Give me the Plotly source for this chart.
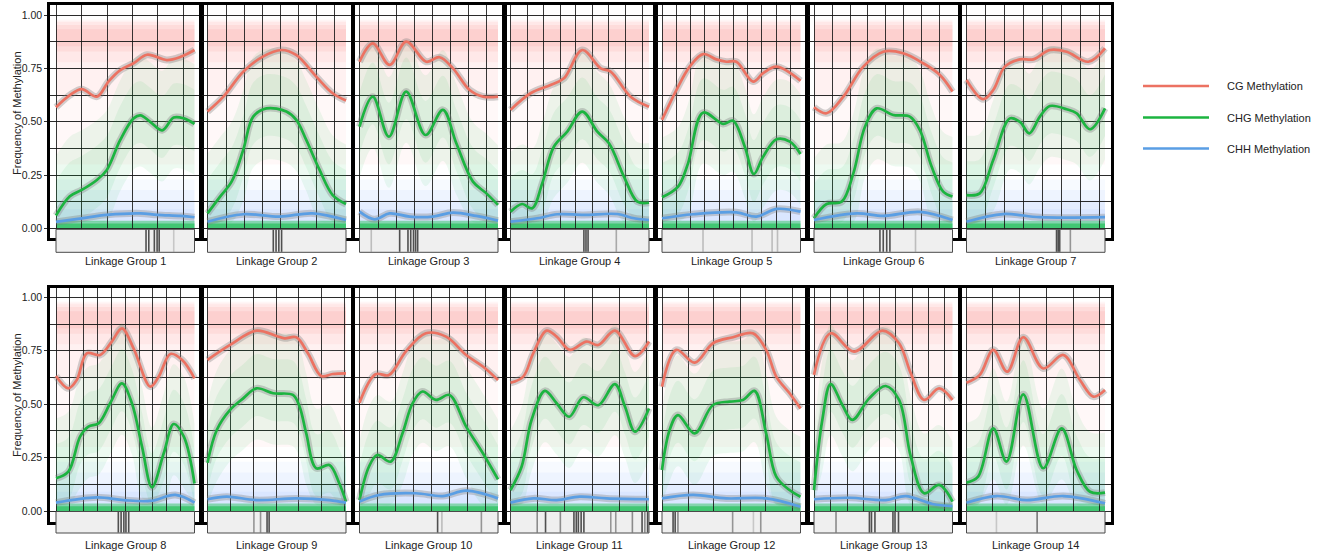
import plotly.graph_objects as go

W, H = 1323, 554

GROUPS = [f"Linkage Group {i}" for i in range(1, 15)]
SERIES = ["CG Methylation", "CHG Methylation", "CHH Methylation"]
COLORS = ["#EC7262", "#1CB440", "#5A9EE4"]
CLOUD_RGB = ["248,118,109", "0,186,56", "97,156,255"]

# ---- smoothed methylation curves (x = fraction of linkage group length) ----
CG_X = [
    [0, 0.10, 0.186, 0.295, 0.38, 0.464, 0.56, 0.657, 0.80, 0.90, 1.0],
    [0, 0.115, 0.258, 0.40, 0.533, 0.64, 0.785, 0.904, 1.0],
    [0, 0.096, 0.217, 0.337, 0.482, 0.578, 0.675, 0.795, 0.892, 1.0],
    [0, 0.145, 0.289, 0.386, 0.518, 0.651, 0.723, 0.867, 1.0],
    [0, 0.104, 0.2, 0.296, 0.393, 0.465, 0.537, 0.658, 0.73, 0.827, 1.0],
    [0, 0.091, 0.212, 0.356, 0.5, 0.644, 0.788, 0.909, 1.0],
    [0, 0.12, 0.193, 0.277, 0.386, 0.482, 0.602, 0.723, 0.88, 1.0],
    [0, 0.089, 0.15, 0.222, 0.319, 0.403, 0.476, 0.56, 0.681, 0.742, 0.826, 0.911, 1.0],
    [0, 0.163, 0.354, 0.498, 0.557, 0.641, 0.725, 0.821, 0.904, 1.0],
    [0, 0.116, 0.213, 0.334, 0.479, 0.625, 0.77, 0.891, 1.0],
    [0, 0.092, 0.164, 0.26, 0.333, 0.429, 0.549, 0.634, 0.754, 0.899, 1.0],
    [0, 0.103, 0.236, 0.368, 0.512, 0.656, 0.752, 0.825, 0.921, 1.0],
    [0, 0.12, 0.289, 0.494, 0.614, 0.699, 0.795, 0.904, 1.0],
    [0, 0.096, 0.193, 0.294, 0.41, 0.554, 0.699, 0.819, 0.916, 1.0],
]
CG_Y = [
    [0.568, 0.625, 0.653, 0.618, 0.69, 0.743, 0.775, 0.815, 0.79, 0.805, 0.837],
    [0.548, 0.618, 0.735, 0.806, 0.837, 0.814, 0.712, 0.634, 0.60],
    [0.782, 0.868, 0.767, 0.876, 0.782, 0.803, 0.751, 0.649, 0.618, 0.618],
    [0.556, 0.634, 0.673, 0.704, 0.837, 0.751, 0.736, 0.618, 0.571],
    [0.509, 0.649, 0.759, 0.818, 0.793, 0.782, 0.782, 0.689, 0.728, 0.759, 0.693],
    [0.568, 0.54, 0.618, 0.759, 0.829, 0.822, 0.775, 0.72, 0.642],
    [0.696, 0.606, 0.649, 0.759, 0.793, 0.793, 0.837, 0.829, 0.782, 0.845],
    [0.632, 0.574, 0.613, 0.738, 0.73, 0.793, 0.855, 0.761, 0.582, 0.629, 0.735, 0.707, 0.621],
    [0.707, 0.777, 0.844, 0.819, 0.808, 0.813, 0.738, 0.632, 0.641, 0.644],
    [0.507, 0.64, 0.636, 0.746, 0.832, 0.816, 0.73, 0.676, 0.613],
    [0.6, 0.629, 0.738, 0.844, 0.816, 0.754, 0.793, 0.777, 0.844, 0.725, 0.793],
    [0.582, 0.754, 0.694, 0.785, 0.813, 0.832, 0.754, 0.629, 0.551, 0.48],
    [0.637, 0.832, 0.746, 0.844, 0.785, 0.644, 0.52, 0.574, 0.52],
    [0.6, 0.637, 0.754, 0.652, 0.813, 0.667, 0.73, 0.613, 0.535, 0.566],
]
CHG_X = [
    [0, 0.10, 0.186, 0.295, 0.367, 0.464, 0.56, 0.61, 0.68, 0.766, 0.85, 0.923, 1.0],
    [0, 0.091, 0.175, 0.258, 0.33, 0.426, 0.569, 0.641, 0.713, 0.809, 0.904, 1.0],
    [0, 0.096, 0.212, 0.337, 0.477, 0.602, 0.699, 0.819, 0.916, 1.0],
    [0, 0.084, 0.157, 0.229, 0.313, 0.41, 0.518, 0.627, 0.711, 0.819, 0.916, 1.0],
    [0, 0.116, 0.188, 0.296, 0.441, 0.513, 0.598, 0.663, 0.73, 0.827, 0.923, 1.0],
    [0, 0.091, 0.2, 0.284, 0.368, 0.452, 0.572, 0.692, 0.764, 0.849, 0.933, 1.0],
    [0, 0.096, 0.193, 0.313, 0.386, 0.453, 0.53, 0.602, 0.723, 0.795, 0.892, 1.0],
    [0, 0.089, 0.174, 0.234, 0.307, 0.391, 0.476, 0.548, 0.621, 0.693, 0.778, 0.85, 0.923, 1.0],
    [0, 0.067, 0.163, 0.258, 0.354, 0.474, 0.617, 0.665, 0.713, 0.785, 0.88, 0.952, 1.0],
    [0, 0.068, 0.128, 0.225, 0.31, 0.383, 0.455, 0.552, 0.649, 0.77, 0.891, 1.0],
    [0, 0.08, 0.152, 0.248, 0.333, 0.424, 0.525, 0.634, 0.754, 0.827, 0.899, 1.0],
    [0, 0.055, 0.115, 0.236, 0.368, 0.488, 0.584, 0.668, 0.752, 0.825, 0.921, 1.0],
    [0, 0.06, 0.12, 0.205, 0.277, 0.398, 0.518, 0.614, 0.699, 0.795, 0.904, 1.0],
    [0, 0.084, 0.193, 0.289, 0.41, 0.554, 0.687, 0.795, 0.892, 1.0],
]
CHG_Y = [
    [0.06, 0.15, 0.18, 0.227, 0.274, 0.415, 0.516, 0.53, 0.50, 0.46, 0.52, 0.516, 0.49],
    [0.07, 0.149, 0.22, 0.368, 0.524, 0.563, 0.548, 0.509, 0.415, 0.274, 0.156, 0.114],
    [0.477, 0.618, 0.43, 0.642, 0.438, 0.556, 0.399, 0.219, 0.164, 0.11],
    [0.078, 0.114, 0.094, 0.211, 0.383, 0.454, 0.548, 0.454, 0.399, 0.243, 0.125, 0.12],
    [0.146, 0.196, 0.305, 0.543, 0.49, 0.505, 0.383, 0.255, 0.336, 0.418, 0.407, 0.349],
    [0.047, 0.114, 0.125, 0.258, 0.477, 0.563, 0.532, 0.524, 0.462, 0.29, 0.172, 0.149],
    [0.156, 0.164, 0.321, 0.516, 0.5, 0.446, 0.524, 0.574, 0.559, 0.54, 0.465, 0.563],
    [0.153, 0.184, 0.348, 0.395, 0.41, 0.504, 0.597, 0.504, 0.301, 0.111, 0.27, 0.407, 0.348, 0.129],
    [0.226, 0.379, 0.473, 0.527, 0.574, 0.551, 0.543, 0.488, 0.363, 0.2, 0.215, 0.129, 0.044],
    [0.051, 0.207, 0.262, 0.231, 0.363, 0.504, 0.559, 0.52, 0.543, 0.395, 0.27, 0.148],
    [0.098, 0.207, 0.426, 0.562, 0.504, 0.441, 0.532, 0.495, 0.594, 0.488, 0.371, 0.48],
    [0.192, 0.379, 0.449, 0.363, 0.496, 0.512, 0.519, 0.562, 0.363, 0.161, 0.098, 0.067],
    [0.098, 0.426, 0.594, 0.496, 0.426, 0.527, 0.585, 0.52, 0.254, 0.083, 0.122, 0.044],
    [0.133, 0.161, 0.387, 0.231, 0.546, 0.2, 0.387, 0.192, 0.09, 0.086],
]
CHH_X = [
    [0, 0.186, 0.367, 0.61, 0.73, 0.90, 1.0],
    [0, 0.258, 0.52, 0.76, 1.0],
    [0, 0.108, 0.217, 0.361, 0.53, 0.675, 0.843, 1.0],
    [0, 0.193, 0.337, 0.53, 0.771, 0.892, 1.0],
    [0, 0.224, 0.537, 0.682, 0.827, 1.0],
    [0, 0.308, 0.5, 0.764, 1.0],
    [0, 0.265, 0.53, 1.0],
    [0, 0.295, 0.488, 0.681, 0.862, 1.0],
    [0, 0.139, 0.354, 0.641, 0.88, 1.0],
    [0, 0.14, 0.407, 0.6, 0.77, 1.0],
    [0, 0.164, 0.333, 0.5, 0.694, 1.0],
    [0, 0.224, 0.464, 0.752, 1.0],
    [0, 0.253, 0.518, 0.663, 0.855, 1.0],
    [0, 0.217, 0.434, 0.699, 1.0],
]
CHH_Y = [
    [0.03, 0.047, 0.063, 0.07, 0.063, 0.058, 0.052],
    [0.031, 0.066, 0.055, 0.07, 0.039],
    [0.078, 0.042, 0.07, 0.055, 0.055, 0.074, 0.058, 0.036],
    [0.031, 0.047, 0.066, 0.063, 0.067, 0.047, 0.039],
    [0.047, 0.066, 0.075, 0.055, 0.091, 0.078],
    [0.039, 0.07, 0.058, 0.077, 0.039],
    [0.031, 0.067, 0.052, 0.052],
    [0.039, 0.064, 0.051, 0.047, 0.075, 0.039],
    [0.055, 0.067, 0.051, 0.059, 0.051, 0.039],
    [0.044, 0.075, 0.083, 0.07, 0.095, 0.059],
    [0.039, 0.059, 0.051, 0.067, 0.059, 0.055],
    [0.059, 0.075, 0.059, 0.059, 0.02],
    [0.055, 0.062, 0.051, 0.07, 0.033, 0.023],
    [0.039, 0.07, 0.051, 0.07, 0.036],
]

# ---- raw-point clouds, summarised as density bands (lower, upper) ----
CG_CLOUD_BANDS = [(0.30, 0.98), (0.62, 0.975), (0.78, 0.968), (0.83, 0.955), (0.855, 0.935)]
CHH_CLOUD_BANDS = [(0.0, 0.23), (0.0, 0.18), (0.0, 0.13), (0.0, 0.09)]
CHG_CLOUD_BOTTOM = [(-0.005, 0.035), (0.0, 0.022)]
CHG_CLOUD_SPREAD = [(0.24, 0.28), (0.13, 0.16)]   # below / above the CHG curve

# ---- genomic grid positions (fraction of length) ----
VGRID = [
    [0, 0.181, 0.37, 0.55, 0.73, 0.92],
    [0, 0.134, 0.266, 0.397, 0.527, 0.658, 0.787, 0.918],
    [0, 0.137, 0.27, 0.40, 0.53, 0.66, 0.79, 0.92],
    [0, 0.12, 0.24, 0.36, 0.47, 0.59, 0.71, 0.83, 0.95],
    [0, 0.104, 0.207, 0.31, 0.414, 0.518, 0.62, 0.72, 0.827, 0.93],
    [0, 0.13, 0.26, 0.387, 0.517, 0.647, 0.777, 0.907],
    [0, 0.137, 0.275, 0.412, 0.55, 0.687, 0.824, 0.96],
    [0, 0.097, 0.198, 0.3, 0.4, 0.5, 0.6, 0.7, 0.8, 0.897],
    [0, 0.167, 0.334, 0.497, 0.66, 0.826, 0.99],
    [0, 0.13, 0.26, 0.39, 0.52, 0.648, 0.778, 0.908],
    [0, 0.197, 0.393, 0.59, 0.786, 0.98],
    [0, 0.19, 0.375, 0.565, 0.75, 0.94],
    [0, 0.12, 0.24, 0.36, 0.475, 0.59, 0.71, 0.824, 0.94],
    [0, 0.19, 0.385, 0.575, 0.77, 0.96],
]

# ---- marker strip features (position, intensity) ----
STRIP_POS = [
    [0.65, 0.67, 0.71, 0.73, 0.745, 0.85],
    [0.475, 0.495, 0.515, 0.535],
    [0.085, 0.29, 0.35, 0.37, 0.39, 0.405, 0.42],
    [0.53, 0.545, 0.56, 0.764],
    [0.296, 0.65, 0.795, 0.834],
    [0.476, 0.50, 0.525, 0.548, 0.733],
    [0.65, 0.662, 0.673, 0.75],
    [0.45, 0.47, 0.49, 0.505, 0.525],
    [0.335, 0.383, 0.43, 0.445],
    [0.564, 0.595, 0.88],
    [0.193, 0.253, 0.36, 0.458, 0.475, 0.49, 0.51, 0.53, 0.724, 0.76, 0.88, 0.95, 0.97, 0.99],
    [0.08, 0.095, 0.115, 0.51, 0.66, 0.713],
    [0.159, 0.4, 0.415, 0.44, 0.57, 0.585, 0.61],
    [0.216, 0.51],
]
STRIP_INT = [
    [0.8, 0.8, 0.8, 0.8, 0.8, 0.2],
    [0.8, 0.8, 0.8, 0.8],
    [0.25, 0.8, 0.8, 0.8, 0.8, 0.8, 0.8],
    [0.8, 0.8, 0.8, 0.35],
    [0.25, 0.25, 0.25, 0.25],
    [0.8, 0.8, 0.8, 0.8, 0.25],
    [0.8, 0.8, 0.8, 0.45],
    [0.8, 0.8, 0.8, 0.8, 0.8],
    [0.45, 0.45, 0.8, 0.8],
    [0.8, 0.25, 0.45],
    [0.5, 0.8, 0.5, 0.8, 0.8, 0.8, 0.8, 0.8, 0.45, 0.45, 0.5, 0.8, 0.5, 0.8],
    [0.8, 0.8, 0.5, 0.45, 0.2, 0.45],
    [0.5, 0.8, 0.8, 0.8, 0.8, 0.8, 0.8],
    [0.2, 0.6],
]

# ---------------- layout geometry / styling ----------------
PANEL_LEFT = [56, 207.5, 359.5, 510.5, 662, 814, 966.5]
PANEL_W = 138.5
PAD = 6
ROW_FRAME = [(5, 238), (288, 522)]
ROW_ZERO_ONE = [(228.3, 15.3), (511, 297.3)]
ROW_STRIP = [(229.3, 252.3), (511.5, 533)]
ROW_LABEL = [261, 544.5]
ROW_TITLE = [113, 395]
CG_CLOUD_ALPHA = [0.05, 0.05, 0.07, 0.1, 0.11]
CHH_CLOUD_ALPHA = [0.05, 0.06, 0.07, 0.08]
CHG_BOTTOM_ALPHA = [0.4, 0.5]
CHG_SPREAD_ALPHA = [0.07, 0.07]

FONT = "Liberation Sans, Arial, sans-serif"


def px_x(p):
    return p / W


def px_y(p):
    return 1 - p / H


fig = go.Figure()
shapes = []
annotations = []
layout = {}

for i in range(14):
    r, c = divmod(i, 7)
    n = i + 1
    xs = "" if n == 1 else str(n)
    xref, yref = "x" + xs, "y" + xs
    L = PANEL_LEFT[c]
    ftop, fbot = ROW_FRAME[r]
    p0, p1 = ROW_ZERO_ONE[r]
    scale = p0 - p1
    yr = [(p0 - fbot) / scale, (p0 - ftop) / scale]

    layout["xaxis" + xs] = dict(
        domain=[px_x(L - PAD), px_x(L + PANEL_W + PAD)],
        range=[-PAD / PANEL_W, 1 + PAD / PANEL_W],
        anchor=yref, tickvals=VGRID[i], showticklabels=False, ticks="",
        showgrid=True, gridcolor="rgba(20,20,20,0.85)", gridwidth=1,
        zeroline=False, showline=True, linecolor="black", linewidth=2.5,
        mirror=True, fixedrange=True,
    )
    layout["yaxis" + xs] = dict(
        domain=[px_y(fbot), px_y(ftop)], range=yr, anchor=xref,
        tickvals=[0, 0.25, 0.5, 0.75, 1.0],
        ticktext=["0.00", "0.25", "0.50", "0.75", "1.00"],
        showticklabels=(c == 0), ticks="outside" if c == 0 else "",
        ticklen=3, tickwidth=1, tickcolor="#333",
        tickfont=dict(family=FONT, size=10.5, color="#222"),
        showgrid=True, gridcolor="rgba(20,20,20,0.9)", gridwidth=1,
        minor=dict(tickvals=[0.125, 0.375, 0.625, 0.875], showgrid=True,
                   gridcolor="rgba(20,20,20,0.9)", gridwidth=1),
        zeroline=False, showline=True, linecolor="black", linewidth=2.5,
        mirror=True, fixedrange=True,
    )

    def band(lo_hi, rgb, a):
        shapes.append(dict(type="rect", xref=xref, yref=yref, x0=0, x1=1,
                           y0=lo_hi[0], y1=lo_hi[1], layer="below",
                           line=dict(width=0), fillcolor=f"rgba({rgb},{a})"))

    for b, a in zip(CG_CLOUD_BANDS, CG_CLOUD_ALPHA):
        band(b, CLOUD_RGB[0], a)
    for b, a in zip(CHH_CLOUD_BANDS, CHH_CLOUD_ALPHA):
        band(b, CLOUD_RGB[2], a)

    for (below, above), a in zip(CHG_CLOUD_SPREAD, CHG_SPREAD_ALPHA):
        lo = [max(0.03, v - below) for v in CHG_Y[i]]
        hi = [min(0.88, v + above) for v in CHG_Y[i]]
        fig.add_trace(go.Scatter(x=CHG_X[i], y=lo, xaxis=xref, yaxis=yref,
                                 mode="lines", line=dict(width=0, shape="spline"),
                                 showlegend=False, hoverinfo="skip"))
        fig.add_trace(go.Scatter(x=CHG_X[i], y=hi, xaxis=xref, yaxis=yref,
                                 mode="lines", line=dict(width=0, shape="spline"),
                                 fill="tonexty", fillcolor=f"rgba({CLOUD_RGB[1]},{a})",
                                 showlegend=False, hoverinfo="skip"))

    for b, a in zip(CHG_CLOUD_BOTTOM, CHG_BOTTOM_ALPHA):
        band(b, CLOUD_RGB[1], a)

    for k, (X, Y) in enumerate([(CG_X, CG_Y), (CHG_X, CHG_Y), (CHH_X, CHH_Y)]):
        fig.add_trace(go.Scatter(x=X[i], y=Y[i], xaxis=xref, yaxis=yref,
                                 mode="lines",
                                 line=dict(width=7, shape="spline", smoothing=1.0,
                                           color="rgba(125,125,125,0.35)"),
                                 showlegend=False, hoverinfo="skip"))
        fig.add_trace(go.Scatter(x=X[i], y=Y[i], xaxis=xref, yaxis=yref,
                                 mode="lines", name=SERIES[k],
                                 line=dict(width=2.7, shape="spline", smoothing=1.0,
                                           color=COLORS[k]),
                                 showlegend=False))

    s0, s1 = ROW_STRIP[r]
    shapes.append(dict(type="rect", xref=xref, yref="paper", x0=0, x1=1,
                       y0=px_y(s1), y1=px_y(s0), layer="above",
                       fillcolor="#EFEFEF", line=dict(color="#4a4a4a", width=1)))
    for pos, a in zip(STRIP_POS[i], STRIP_INT[i]):
        shapes.append(dict(type="line", xref=xref, yref="paper", x0=pos, x1=pos,
                           y0=px_y(s1 - 0.5), y1=px_y(s0 + 0.5), layer="above",
                           line=dict(color=f"rgba(40,40,40,{a})", width=1.6)))

    annotations.append(dict(text=GROUPS[i], xref="paper", yref="paper",
                            x=px_x(L + PANEL_W / 2), y=px_y(ROW_LABEL[r]),
                            xanchor="center", yanchor="middle", showarrow=False,
                            font=dict(family=FONT, size=11, color="#222")))

for r in range(2):
    annotations.append(dict(text="Frequency of Methylation", xref="paper", yref="paper",
                            x=px_x(17), y=px_y(ROW_TITLE[r]), textangle=-90,
                            xanchor="center", yanchor="middle", showarrow=False,
                            font=dict(family=FONT, size=11, color="#222")))

LEGEND_Y = [86, 117.5, 148.5]
for k in range(3):
    shapes.append(dict(type="line", xref="paper", yref="paper",
                       x0=px_x(1143), x1=px_x(1209), y0=px_y(LEGEND_Y[k]), y1=px_y(LEGEND_Y[k]),
                       line=dict(color=COLORS[k], width=2.7)))
    annotations.append(dict(text=SERIES[k], xref="paper", yref="paper",
                            x=px_x(1225), y=px_y(LEGEND_Y[k]), xanchor="left",
                            yanchor="middle", showarrow=False,
                            font=dict(family=FONT, size=11, color="#222")))

fig.update_layout(
    width=W, height=H, margin=dict(l=0, r=0, t=0, b=0),
    paper_bgcolor="white", plot_bgcolor="white",
    showlegend=False, shapes=shapes, annotations=annotations,
    **layout,
)
fig.write_html("out.html")
